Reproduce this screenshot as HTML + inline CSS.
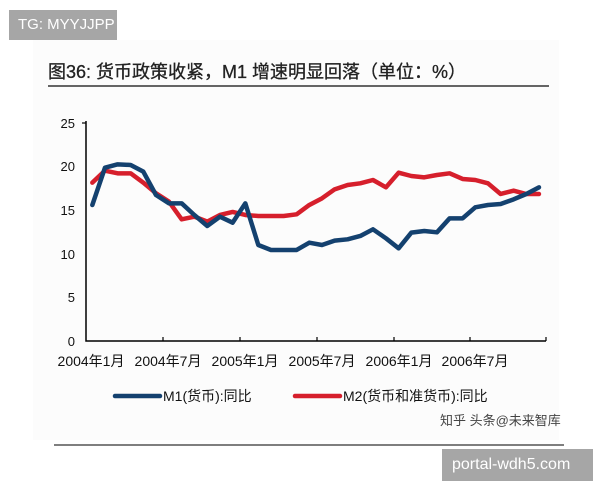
<!DOCTYPE html>
<html><head><meta charset="utf-8"><style>
body{margin:0;width:600px;height:480px;background:#fff;overflow:hidden;position:relative;font-family:"Liberation Sans","Noto Sans CJK SC",sans-serif}
.tag{position:absolute;background:#a6a6a6;color:#fff;font-size:15px;}
</style></head><body>
<div style="position:absolute;left:33px;top:40px;width:526px;height:400px;background:#fcfcfc"></div>
<div class="tag" style="left:9px;top:10px;width:108px;height:30px;line-height:30px;padding-left:9px;box-sizing:border-box">TG: MYYJJPP</div>
<div class="tag" style="left:442px;top:449px;width:151px;height:32px;line-height:32px;padding-left:10px;box-sizing:border-box;font-size:16px">portal-wdh5.com</div>
<svg width="600" height="480" style="position:absolute;left:0;top:0" font-family="Liberation Sans, Noto Sans CJK SC, sans-serif">
<text x="48" y="78" font-size="18" fill="#222" stroke="#222" stroke-width="0.3">图36: 货币政策收紧，M1 增速明显回落（单位：%）</text>
<line x1="48" y1="86" x2="549" y2="86" stroke="#333" stroke-width="1.5"/>
<g font-size="13" fill="#111" text-anchor="end">
<text x="75" y="128">25</text><text x="75" y="171">20</text><text x="75" y="215">15</text><text x="75" y="259">10</text><text x="75" y="302">5</text><text x="75" y="346">0</text>
</g>
<path d="M86 121V341H546" fill="none" stroke="#000" stroke-width="1.5"/>
<g stroke="#000" stroke-width="1.2">
<line x1="82" y1="123" x2="86" y2="123"/>
<line x1="163" y1="337" x2="163" y2="341"/><line x1="240" y1="337" x2="240" y2="341"/><line x1="317" y1="337" x2="317" y2="341"/><line x1="394" y1="337" x2="394" y2="341"/><line x1="470" y1="337" x2="470" y2="341"/><line x1="546" y1="337" x2="546" y2="341"/>
</g>
<g font-size="14" fill="#111" text-anchor="middle">
<text x="91" y="366">2004年1月</text><text x="168" y="366">2004年7月</text><text x="245" y="366">2005年1月</text><text x="322" y="366">2005年7月</text><text x="399" y="366">2006年1月</text><text x="475" y="366">2006年7月</text>
</g>
<g transform="translate(40,100) scale(0.3333)" fill="none" stroke-linejoin="round" stroke-linecap="round">
<polyline vector-effect="non-scaling-stroke" stroke="#d61f2c" stroke-width="4.5" points="157,248 195,212 233,220 272,220 310,248 348,280 387,305 425,358 463,350 502,365 540,345 578,336 616,345 655,348 693,348 731,348 770,343 808,315 846,295 884,268 923,255 961,250 999,240 1038,262 1076,218 1114,228 1153,232 1191,225 1229,220 1268,237 1306,240 1344,250 1382,282 1421,272 1459,282 1497,282"/>
<polyline vector-effect="non-scaling-stroke" stroke="#14416f" stroke-width="4.5" points="157,315 195,203 233,193 272,195 310,215 348,285 387,310 425,310 463,345 502,378 540,350 578,368 616,310 655,435 693,450 731,450 770,450 808,428 846,435 884,422 923,418 961,408 999,388 1038,415 1076,445 1114,398 1153,393 1191,397 1229,355 1268,355 1306,322 1344,315 1382,312 1421,298 1459,282 1497,262"/>
</g>
<line x1="115" y1="396" x2="160" y2="396" stroke="#14416f" stroke-width="4.5" stroke-linecap="round"/>
<line x1="295" y1="396" x2="340" y2="396" stroke="#d61f2c" stroke-width="4.5" stroke-linecap="round"/>
<g font-size="14" fill="#111"><text x="163" y="401">M1(货币):同比</text><text x="343" y="401">M2(货币和准货币):同比</text></g>
<text x="440" y="425" font-size="13" fill="#444">知乎 头条@未来智库</text>
<line x1="54" y1="445" x2="564" y2="445" stroke="#333" stroke-width="1.2"/>
</svg>
</body></html>
